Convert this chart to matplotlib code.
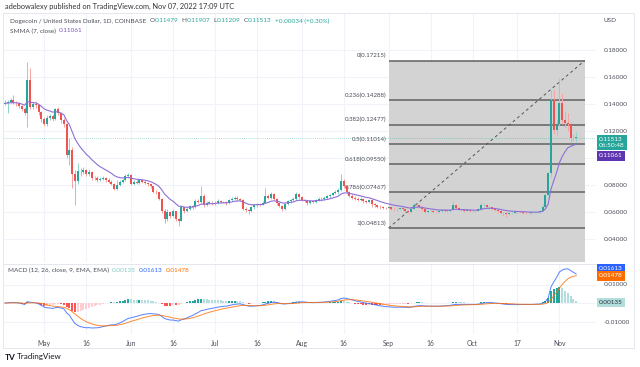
import matplotlib
matplotlib.use("Agg")
import matplotlib.pyplot as plt
from matplotlib.patches import Rectangle
import numpy as np

plt.rcParams["font.family"] = ["Lato", "DejaVu Sans"]

# daily DOGE/USD candles, Apr 17 2022 (day 0) .. Nov 7 2022 (day 204); open = previous close
first_open = 0.1400
closes = [
    .1405, .1415, .1430, .1410, .1405, .1385, .1365, .1335, .1580, .1380,
    .1400, .1390, .1340, .1290, .1250, .1300, .1310, .1290, .1360, .1330,
    .1280, .1250, .1020, .1060, .0880, .0830, .0900, .0895, .0910, .0880,
    .0900, .0850, .0855, .0840, .0845, .0855, .0840, .0825, .0810, .0770,
    .0800, .0825, .0835, .0865, .0875, .0810, .0825, .0815, .0835, .0825,
    .0815, .0805, .0790, .0750, .0745, .0700, .0610, .0545, .0600, .0570,
    .0605, .0545, .0535, .0635, .0605, .0625, .0645, .0635, .0685, .0675,
    .0720, .0655, .0670, .0670, .0665, .0670, .0685, .0675, .0672, .0665,
    .0690, .0700, .0705, .0695, .0690, .0625, .0615, .0605, .0635, .0650,
    .0660, .0655, .0670, .0715, .0705, .0735, .0700, .0665, .0645, .0620,
    .0660, .0680, .0690, .0695, .0730, .0710, .0690, .0685, .0665, .0680,
    .0675, .0690, .0700, .0695, .0705, .0715, .0725, .0740, .0745, .0760,
    .0830, .0790, .0745, .0720, .0705, .0700, .0690, .0695, .0680, .0675,
    .0690, .0660, .0650, .0640, .0635, .0630, .0628, .0635, .0625, .0620,
    .0622, .0630, .0620, .0610, .0600, .0625, .0655, .0650, .0640, .0620,
    .0600, .0608, .0605, .0600, .0598, .0605, .0612, .0610, .0608, .0615,
    .0650, .0630, .0615, .0612, .0610, .0612, .0608, .0605, .0610, .0620,
    .0650, .0655, .0640, .0635, .0625, .0615, .0605, .0595, .0590, .0585,
    .0592, .0595, .0598, .0600, .0598, .0595, .0592, .0590, .0597, .0598,
    .0600, .0605, .0640, .0725, .0887, .1430, .1207, .1250, .1405, .1280,
    .1260, .1255, .1146, .11479, .11513,
]
highs = [
    .1430, .1430, .1445, .1467, .1425, .1415, .1395, .1375, .1709, .1664,
    .1415, .1420, .1400, .1350, .1305, .1315, .1325, .1325, .1370, .1375,
    .1340, .1300, .1260, .1150, .1080, .0910, .0960, .0925, .0935, .0920,
    .0915, .0905, .0870, .0865, .0860, .0870, .0860, .0850, .0835, .0815,
    .0840, .0835, .0845, .0880, .0890, .0880, .0835, .0835, .0845, .0840,
    .0835, .0825, .0810, .0795, .0765, .0750, .0705, .0620, .0620, .0610,
    .0620, .0610, .0555, .0645, .0640, .0635, .0655, .0655, .0695, .0700,
    .0790, .0735, .0680, .0685, .0680, .0680, .0695, .0690, .0685, .0680,
    .0700, .0710, .0720, .0715, .0705, .0695, .0635, .0625, .0645, .0660,
    .0670, .0670, .0680, .0775, .0730, .0750, .0740, .0705, .0675, .0650,
    .0670, .0690, .0700, .0710, .0750, .0740, .0720, .0700, .0690, .0690,
    .0690, .0700, .0710, .0710, .0715, .0725, .0735, .0750, .0760, .0775,
    .0885, .0845, .0800, .0755, .0730, .0715, .0710, .0710, .0705, .0690,
    .0700, .0695, .0670, .0655, .0650, .0645, .0640, .0645, .0640, .0635,
    .0630, .0640, .0635, .0625, .0615, .0635, .0665, .0660, .0655, .0645,
    .0625, .0615, .0615, .0612, .0608, .0612, .0620, .0620, .0618, .0622,
    .0680, .0660, .0635, .0622, .0620, .0620, .0618, .0615, .0617, .0628,
    .0677, .0665, .0660, .0648, .0640, .0630, .0620, .0610, .0602, .0598,
    .0600, .0602, .0605, .0608, .0607, .0605, .0602, .0600, .0604, .0605,
    .0607, .0612, .0660, .0750, .0900, .1504, .1504, .1290, .1590, .1480,
    .1340, .1330, .1270, .1180, .11907,
]
lows = [
    .1390, .1330, .1405, .1400, .1385, .1370, .1350, .1320, .1230, .1360,
    .1365, .1370, .1320, .1270, .1235, .1240, .1285, .1275, .1280, .1315,
    .1260, .1230, .1000, .0950, .0780, .0650, .0810, .0870, .0880, .0865,
    .0870, .0840, .0835, .0825, .0830, .0835, .0825, .0815, .0800, .0760,
    .0765, .0795, .0815, .0830, .0855, .0800, .0800, .0805, .0810, .0815,
    .0805, .0795, .0780, .0740, .0735, .0690, .0595, .0520, .0535, .0555,
    .0560, .0530, .0500, .0530, .0595, .0600, .0615, .0625, .0630, .0665,
    .0670, .0640, .0645, .0660, .0655, .0655, .0660, .0665, .0665, .0655,
    .0660, .0680, .0690, .0685, .0680, .0615, .0600, .0585, .0600, .0625,
    .0640, .0645, .0650, .0665, .0695, .0700, .0690, .0655, .0635, .0610,
    .0615, .0650, .0670, .0680, .0690, .0700, .0680, .0675, .0655, .0660,
    .0665, .0670, .0685, .0685, .0690, .0700, .0705, .0715, .0730, .0735,
    .0755, .0780, .0735, .0710, .0695, .0690, .0680, .0685, .0670, .0665,
    .0670, .0640, .0640, .0630, .0625, .0620, .0620, .0620, .0615, .0610,
    .0610, .0615, .0610, .0595, .0590, .0595, .0620, .0640, .0630, .0610,
    .0590, .0595, .0598, .0592, .0590, .0592, .0600, .0603, .0600, .0602,
    .0612, .0622, .0608, .0605, .0603, .0604, .0600, .0598, .0600, .0605,
    .0615, .0640, .0632, .0625, .0615, .0605, .0595, .0585, .0570, .0565,
    .0578, .0585, .0588, .0590, .0590, .0587, .0585, .0582, .0585, .0590,
    .0592, .0595, .0600, .0635, .0715, .0860, .1180, .1170, .1240, .1250,
    .1220, .1200, .1120, .1125, .11209,
]

tick_days = [14, 29, 45, 60, 75, 90, 106, 121, 137, 152, 167, 183, 198]
tick_labels = ["May", "16", "Jun", "16", "Jul", "16", "Aug", "16", "Sep", "16", "Oct", "17", "Nov"]
price_ticks = [0.04, 0.06, 0.08, 0.10, 0.12, 0.14, 0.16, 0.18]
macd_ticks = [-0.01, 0.0, 0.01]

fib_ratios = ["0", "0.236", "0.382", "0.5", "0.618", "0.786", "1"]
fib_prices = [0.17215, 0.14288, 0.12477, 0.11014, 0.09550, 0.07467, 0.04813]
fib_start, fib_end = 137, 207

# ---- indicators
c = np.array(closes)
o = np.r_[first_open, c[:-1]]
h = np.array(highs)
l = np.array(lows)
days = np.arange(len(c))

smma = np.empty_like(c)
smma[0] = c[0]
for i in range(1, len(c)):
    smma[i] = (smma[i - 1] * 6 + c[i]) / 7

def ema(x, n):
    a = 2 / (n + 1)
    out = np.empty_like(x)
    out[0] = x[0]
    for i in range(1, len(x)):
        out[i] = a * x[i] + (1 - a) * out[i - 1]
    return out

macd = ema(c, 12) - ema(c, 26)
signal = ema(macd, 9)
hist = macd - signal

W, H = 640, 367
FS = 4.6
fig = plt.figure(figsize=(6.4, 3.67), dpi=100)
fig.patch.set_facecolor("white")
TXT = "#4a4e59"
UP, DN = "#26a69a", "#ef5350"

def fx(px):
    return px / W

def fy(py):
    return 1 - py / H

xmin, xmax = (4 - 5) / 2.8, (596 - 5) / 2.8
ax = fig.add_axes([fx(4), fy(262), fx(592), 249 / H])
ax.set_xlim(xmin, xmax)
ax.set_ylim(0.18 - 212 / 1350, 0.18 + 37 / 1350)
axm = fig.add_axes([fx(4), fy(334), fx(592), 70 / H])
axm.set_xlim(xmin, xmax)
axm.set_ylim(-31 / 1850, 39 / 1850)

for a in (ax, axm):
    for s in a.spines.values():
        s.set_visible(False)
    a.set_xticks(tick_days)
    a.grid(True, color="#f0f3fa", lw=0.8)
    a.set_axisbelow(True)
    a.yaxis.tick_right()
    a.tick_params(length=0, labelsize=FS, labelcolor=TXT, pad=5.5)
ax.set_xticklabels([])
axm.set_xticklabels(tick_labels)
axm.tick_params(axis="x", pad=4, labelsize=4.9)
ax.set_yticks(price_ticks)
# labels at 0.10000 and 0.00000 sit under the value boxes, as in the original
ax.set_yticklabels(["" if abs(p - 0.10) < 1e-9 else f"{p:.5f}" for p in price_ticks])
axm.set_yticks(macd_ticks)
axm.set_yticklabels(["" if v == 0 else f"{v:.5f}" for v in macd_ticks])
axm.spines["top"].set_visible(True)
axm.spines["top"].set_color("#e0e3eb")
axm.spines["top"].set_linewidth(0.6)

# ---- fib retracement
ymin = ax.get_ylim()[0]
ax.add_patch(Rectangle((fib_start, ymin), fib_end - fib_start, fib_prices[0] - ymin,
                       facecolor="#d3d3d3", edgecolor="none", zorder=1))
ax.hlines(fib_prices, fib_start, fib_end, color="#6b6b6b", lw=1.2, zorder=2)
ax.plot([fib_start, fib_end], [fib_prices[-1], fib_prices[0]], color="#555555",
        lw=0.7, ls=(0, (3, 3)), zorder=2)
for r, p in zip(fib_ratios, fib_prices):
    ax.annotate(f"{r}({p:.5f})", (fib_start, p), xytext=(-1.5, 3.5), textcoords="offset points",
                ha="right", va="center", fontsize=4.4, color=TXT, zorder=2)

# last price line
ax.axhline(c[-1], color="#26a69a", lw=0.6, ls=(0, (1, 1.5)), alpha=0.5, zorder=2)

# ---- candles
col = np.where(c >= o, UP, DN)
wick = np.where(c >= o, "#8fd3cc", "#f5a3a1")
ax.vlines(days, l, h, colors=wick, lw=0.7, zorder=3)
ax.bar(days, np.maximum(np.abs(c - o), 0.0004), bottom=np.minimum(o, c), width=0.72,
       color=col, zorder=4)
ax.plot(days, smma, color="#8e6fd8", lw=0.8, zorder=5)

# ---- MACD
hcol = []
for i, v in enumerate(hist):
    prev = hist[i - 1] if i else v
    if v >= 0:
        hcol.append("#26a69a" if v > prev else "#b2dfdb")
    else:
        hcol.append("#ffcdd2" if v > prev else "#ff5252")
axm.bar(days, hist, width=0.72, color=hcol, zorder=2)
axm.plot(days, macd, color="#2962ff", lw=0.7, zorder=3, alpha=0.8)
axm.plot(days, signal, color="#ff6d00", lw=0.7, zorder=3, alpha=0.8)

# ---- value boxes on the price scales
def tag(a, val, text, fc, tc, dy):
    a.annotate(text, (1, val), xycoords=("axes fraction", "data"), xytext=(2, dy),
               textcoords="offset points", ha="left", va="center", fontsize=FS, color=tc,
               bbox=dict(boxstyle="square,pad=0.35", fc=fc, ec="none"), zorder=10,
               annotation_clip=False, linespacing=1.15)

tag(ax, c[-1], f"{c[-1]:.5f}\n06:50:48", "#26a69a", "white", -3.5)
tag(ax, smma[-1], "0.11061", "#5e35b1", "white", -8.5)
tag(axm, macd[-1], "0.01613", "#2962ff", "white", 4)
tag(axm, signal[-1], "0.01478", "#ff6d00", "white", 0)
tag(axm, hist[-1], "0.00135", "#b2dfdb", "#2b3340", -1)

# ---- header texts
renderer = fig.canvas.get_renderer()

def run(x, y, parts, size=FS):
    for s, color, gap in parts:
        t = fig.text(fx(x), fy(y), s, color=color, fontsize=size, va="center", ha="left")
        x += t.get_window_extent(renderer).width + gap

fig.text(fx(5), fy(6), "adebowalexy published on TradingView.com, Nov 07, 2022 17:09 UTC",
         fontsize=5.3, color="#333333", va="center")
run(10, 21, [("Dogecoin / United States Dollar, 1D, COINBASE", TXT, 3),
             ("O", TXT, 0.3), ("0.11479", UP, 3), ("H", TXT, 0.3), ("0.11907", UP, 3),
             ("L", TXT, 0.3), ("0.11209", UP, 3), ("C", TXT, 0.3), ("0.11513", UP, 3),
             ("+0.00034 (+0.30%)", UP, 0)])
run(10, 31, [("SMMA (7, close)", TXT, 3), ("0.11061", "#7e57c2", 0)])
run(8, 270, [("MACD (12, 26, close, 9, EMA, EMA)", TXT, 3), ("0.00135", "#80cbc4", 3),
             ("0.01613", "#2962ff", 3), ("0.01478", "#ff6d00", 0)])
fig.text(fx(604), fy(21), "USD", fontsize=FS, color=TXT, va="center")

# frame and footer
fig.add_artist(Rectangle((fx(3), fy(348)), fx(631), 335 / H, transform=fig.transFigure,
                         fill=False, ec="#e0e3eb", lw=0.6))
fig.text(fx(5), fy(357), "TV", fontsize=6, weight="bold", color="#131722", va="center")
fig.text(fx(17), fy(357), "TradingView", fontsize=5.8, color="#131722", va="center")

fig.savefig("out.png", dpi=100)
